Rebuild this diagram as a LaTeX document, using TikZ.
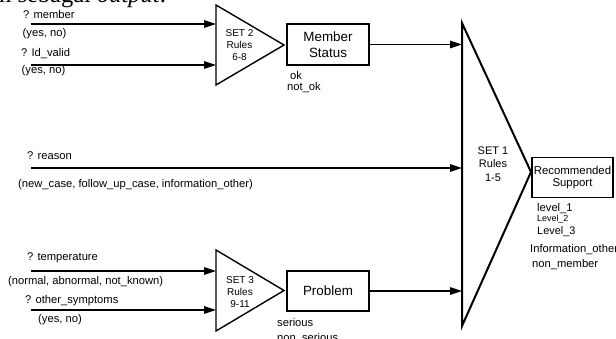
\documentclass[tikz,border=0pt]{standalone}
\usepackage{fontspec}
\setmainfont{Liberation Sans}
\newfontfamily\docserif{Liberation Serif}
\usetikzlibrary{arrows.meta}
\begin{document}
\begin{tikzpicture}[x=1pt,y=-1pt,
  lbl/.style={anchor=base west, inner sep=0pt, font=\fontsize{11.2}{13}\selectfont},
  smalllbl/.style={anchor=base west, inner sep=0pt, font=\fontsize{8.9}{10}\selectfont},
  box/.style={draw, line width=1.3pt, inner sep=0pt, align=center, minimum width=82pt, minimum height=41pt, font=\fontsize{13.4}{16}\selectfont},
  tri/.style={line width=1.4pt, line join=miter},
  bigtri/.style={line width=2pt, line join=miter},
  trilbl/.style={inner sep=0pt, align=center, font=\fontsize{10}{11.8}\selectfont},
  arr/.style={line width=1.4pt, -{Triangle[length=12pt,width=7.5pt]}},
]
\useasboundingbox (0,0) rectangle (616,339);
\clip (0,0) rectangle (616,339);

% cut-off text of the page above the figure
\node[anchor=base west, inner sep=0pt, font=\docserif\fontsize{24.5}{28}\selectfont] (pagetext) at (-1,3) {n sebagai \textit{output}.};

% triangles
\draw[tri] (216,5) -- (284,45) -- (216,85) -- cycle;
\draw[tri] (216,250) -- (284,290.5) -- (216,331) -- cycle;
\draw[bigtri] (462,23) -- (531,172) -- (462,326) -- cycle;

\node[trilbl] (set2) at (239.5,45) {SET 2\\Rules\\6-8};
\node[trilbl] (set3) at (240,292) {SET 3\\Rules\\9-11};
\node[trilbl, font=\fontsize{11}{13.5}\selectfont] (set1) at (493,164) {SET 1\\Rules\\1-5};

% boxes
\node[box] (member) at (328,44.5) {Member\\Status};
\node[box, minimum height=40pt] (problem) at (328,291) {Problem};
\node[box, minimum width=81pt, minimum height=40pt, font=\fontsize{11.4}{12.5}\selectfont] (rec) at (572.5,177.5) {Recommended\\Support};

% arrow coordinates
\coordinate (m0) at (31,24);    \coordinate (m1) at (216,24);
\coordinate (i0) at (31,65);    \coordinate (i1) at (216,65);
\coordinate (r0) at (31,168);   \coordinate (r1) at (462,168);
\coordinate (t0) at (31,271);   \coordinate (t1) at (216,271);
\coordinate (o0) at (31,310);   \coordinate (o1) at (216,310);
\coordinate (ms1) at (462,44.5);
\coordinate (pb1) at (462,291);

\draw[arr] (m0) -- (m1);
\draw[arr] (i0) -- (i1);
\draw[arr] (r0) -- (r1);
\draw[arr] (t0) -- (t1);
\draw[arr] (o0) -- (o1);
\draw[arr] (member.east) -- (ms1);
\draw[arr] (problem.east) -- (pb1);

% input labels
\node[lbl] (lmember) at (23,19) {? member};
\node[lbl] (lmembervals) at (22.5,36.5) {(yes, no)};
\node[lbl] (lid) at (21,56.5) {? Id\_valid};
\node[lbl] (lidvals) at (21.5,73.5) {(yes, no)};
\node[lbl] (lreason) at (27,159.5) {? reason};
\node[lbl] (lreasonvals) at (18,188) {(new\_case, follow\_up\_case, information\_other)};
\node[lbl] (ltemp) at (27,260.5) {? temperature};
\node[lbl] (ltempvals) at (8,284) {(normal, abnormal, not\_known)};
\node[lbl] (lother) at (25,303.5) {? other\_symptoms};
\node[lbl] (lothervals) at (38,322) {(yes, no)};

% output labels
\node[lbl] (lok) at (290,80) {ok};
\node[lbl] (lnotok) at (287,91) {not\_ok};
\node[lbl] (lserious) at (277,326) {serious};
\node[lbl] (lnonserious) at (277,341) {non\_serious};
\node[lbl] (lev1) at (537,212) {level\_1};
\node[smalllbl] (lev2) at (537,222) {Level\_2};
\node[lbl, font=\fontsize{10.9}{13}\selectfont] (lev3) at (537,235) {Level\_3};
\node[lbl] (linfo) at (530,253) {Information\_other};
\node[lbl] (lnonmember) at (532,268) {non\_member};
\end{tikzpicture}
\end{document}
